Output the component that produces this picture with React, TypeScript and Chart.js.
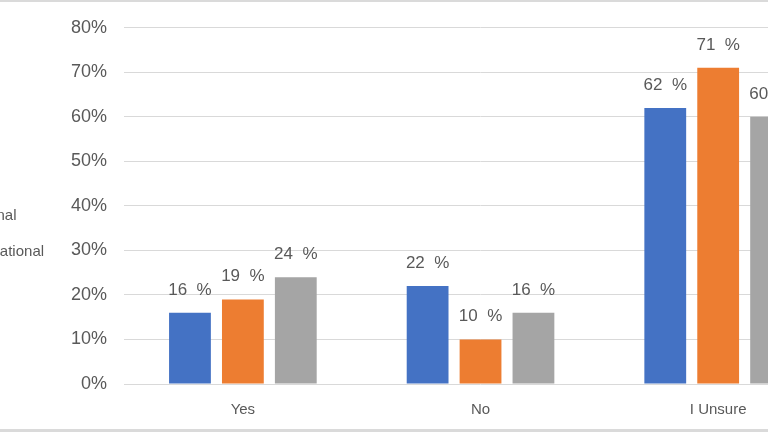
import React, { useEffect, useRef } from "react";
import { Chart, registerables } from "chart.js";

Chart.register(...registerables);

const categories = ["Yes", "No", "I Unsure"];
const seriesNames = ["Local", "National", "International"];
const localValues = [16, 22, 62];
const nationalValues = [19, 10, 71];
const internationalValues = [24, 16, 60];
const seriesColors = ["#4472C4", "#ED7D31", "#A5A5A5"];
const yMin = 0;
const yMax = 80;
const yStep = 10;

const FONT = "'Liberation Sans', Arial, Helvetica, sans-serif";
const TEXT = "#595959";

const valueLabels = {
  id: "valueLabels",
  afterDatasetsDraw(chart: any) {
    const ctx = chart.ctx;
    ctx.save();
    ctx.font = `17px ${FONT}`;
    ctx.fillStyle = TEXT;
    ctx.textAlign = "center";
    ctx.textBaseline = "alphabetic";
    chart.data.datasets.forEach((ds: any, i: number) => {
      chart.getDatasetMeta(i).data.forEach((bar: any, j: number) => {
        ctx.fillText(`${ds.data[j]}  %`, bar.x, bar.y - 18);
      });
    });
    ctx.restore();
  },
};

export default function App() {
  const ref = useRef<HTMLCanvasElement | null>(null);

  useEffect(() => {
    if (!ref.current) return;
    const allSeries = [localValues, nationalValues, internationalValues];
    const chart = new Chart(ref.current, {
      type: "bar",
      data: {
        labels: categories,
        datasets: allSeries.map((vals, i) => ({
          label: seriesNames[i],
          data: vals,
          backgroundColor: seriesColors[i],
          borderWidth: 0,
          categoryPercentage: 0.668,
          barPercentage: 0.79,
        })),
      },
      options: {
        animation: false,
        responsive: false,
        devicePixelRatio: 1,
        layout: { padding: { top: 0, right: 10, bottom: 0, left: 0 } },
        plugins: {
          title: {
            display: true,
            text: "",
            fullSize: false,
            position: "top",
            font: { family: FONT, size: 10, lineHeight: 1.2 },
            padding: { top: 15, bottom: 0 },
          },
          legend: {
            position: "left",
            align: "center",
            labels: {
              boxWidth: 12,
              boxHeight: 12,
              padding: 21,
              color: TEXT,
              font: { family: FONT, size: 15 },
            },
          },
          tooltip: { enabled: false },
        },
        scales: {
          x: {
            grid: { display: false },
            border: { display: false },
            ticks: {
              color: TEXT,
              font: { family: FONT, size: 15 },
              padding: 9,
            },
            afterFit(scale: any) {
              scale.height = 48;
            },
          },
          y: {
            min: yMin,
            max: yMax,
            grid: { color: "#d9d9d9", lineWidth: 1, drawTicks: false },
            border: { display: false },
            ticks: {
              stepSize: yStep,
              color: TEXT,
              font: { family: FONT, size: 18 },
              padding: 17,
              callback: (v: any) => `${v}%`,
            },
            afterFit(scale: any) {
              scale.width = 70;
            },
          },
        },
      },
      plugins: [valueLabels],
    });
    return () => chart.destroy();
  }, []);

  return (
    <div
      style={{
        position: "fixed",
        left: 0,
        top: 0,
        width: 768,
        height: 432,
        overflow: "hidden",
        background: "#ffffff",
      }}
    >
      <canvas
        ref={ref}
        width={926}
        height={432}
        style={{ position: "absolute", left: -79, top: 0, width: 926, height: 432 }}
      />
      <div style={{ position: "absolute", left: 0, top: 0, width: 768, height: 2, background: "#dadada" }} />
      <div style={{ position: "absolute", left: 0, top: 429, width: 768, height: 3, background: "#dadada" }} />
    </div>
  );
}
